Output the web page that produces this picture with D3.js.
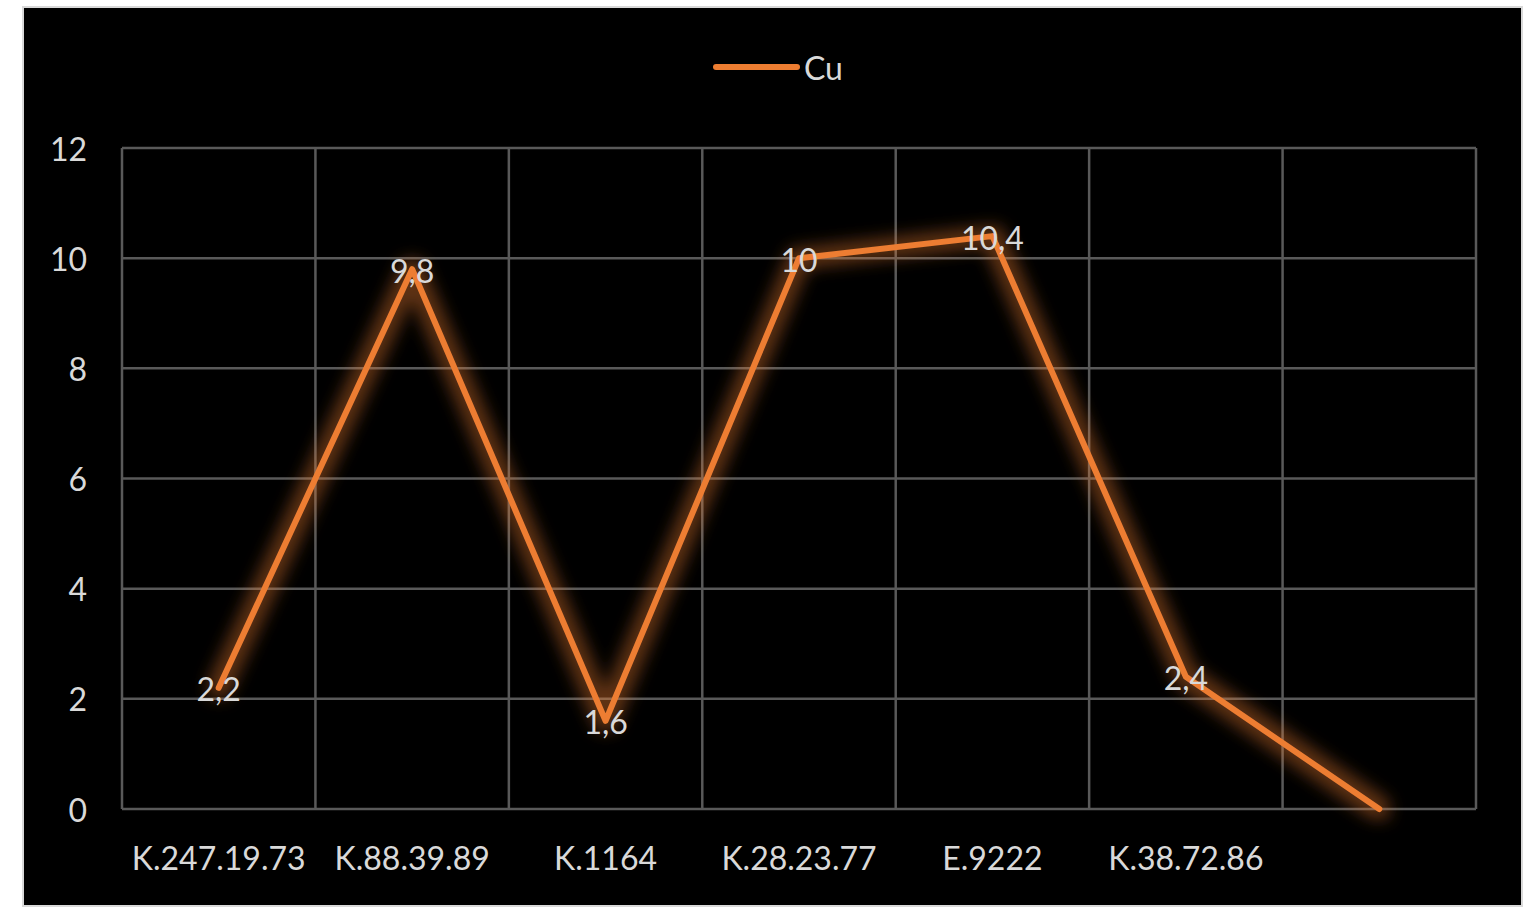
<!DOCTYPE html>
<html>
<head>
<meta charset="utf-8">
<script src="https://cdn.jsdelivr.net/npm/d3@7"></script>
<style>
  body { margin: 0; background: #fff; }
  text { font-family: Lato, "Open Sans", sans-serif; fill: #d9d9d9; }
</style>
</head>
<body>
<svg class="chart"></svg>
<script>
let width = 1531,
height = 908;

// data
let categories = ["K.247.19.73", "K.88.39.89", "K.1164", "K.28.23.77", "E.9222", "K.38.72.86", ""];
let cuValues = [2.2, 9.8, 1.6, 10, 10.4, 2.4, 0];
let cuLabels = ["2,2", "9,8", "1,6", "10", "10,4", "2,4", ""];
let yTicks = [0, 2, 4, 6, 8, 10, 12];
let seriesName = "Cu";

let svg = d3.select(".chart").attr("width", width).attr("height", height);

// frame
svg.append("rect")
  .attr("x", 23).attr("y", 7)
  .attr("width", 1499).attr("height", 899)
  .attr("fill", "#000")
  .attr("stroke", "#d9d9d9")
  .attr("stroke-width", 2);

let plot = { left: 122, right: 1476, top: 148, bottom: 809 };

let x = d3.scaleBand().domain(d3.range(categories.length)).range([plot.left, plot.right]);
let y = d3.scaleLinear().domain([0, 12]).range([plot.bottom, plot.top]);

// glow filter
let defs = svg.append("defs");
let f = defs.append("filter").attr("id", "glow")
  .attr("x", "-10%").attr("y", "-10%").attr("width", "120%").attr("height", "120%");
f.append("feMorphology").attr("in", "SourceAlpha").attr("operator", "dilate").attr("radius", 7).attr("result", "d");
f.append("feGaussianBlur").attr("in", "d").attr("stdDeviation", 8).attr("result", "b");
f.append("feFlood").attr("flood-color", "#ed7d31").attr("flood-opacity", 0.4);
f.append("feComposite").attr("in2", "b").attr("operator", "in").attr("result", "g");
let m = f.append("feMerge");
m.append("feMergeNode").attr("in", "g");
m.append("feMergeNode").attr("in", "SourceGraphic");

// gridlines
let grid = svg.append("g").attr("stroke", "#595959").attr("stroke-width", 2.5).attr("fill", "none");
grid.selectAll(".h").data(yTicks).enter().append("line")
  .attr("x1", plot.left).attr("x2", plot.right)
  .attr("y1", d => y(d)).attr("y2", d => y(d));
let xb = d3.range(categories.length + 1).map(i => i < categories.length ? x(i) : plot.right);
grid.selectAll(".v").data(xb).enter().append("line")
  .attr("x1", d => d).attr("x2", d => d)
  .attr("y1", plot.top).attr("y2", plot.bottom);

// y axis labels
svg.append("g").selectAll("text").data(yTicks).enter().append("text")
  .attr("x", 87).attr("y", d => y(d))
  .attr("text-anchor", "end").attr("dominant-baseline", "central")
  .attr("font-size", 32)
  .text(d => d);

// x axis labels
svg.append("g").selectAll("text").data(categories).enter().append("text")
  .attr("x", (d, i) => x(i) + x.bandwidth() / 2).attr("y", 857)
  .attr("text-anchor", "middle").attr("dominant-baseline", "central")
  .attr("font-size", 32)
  .text(d => d);

// line
let line = d3.line().x((d, i) => x(i) + x.bandwidth() / 2).y(d => y(d));
svg.append("path")
  .datum(cuValues)
  .attr("d", line)
  .attr("fill", "none")
  .attr("stroke", "#ed7d31")
  .attr("stroke-width", 6)
  .attr("stroke-linejoin", "round")
  .attr("stroke-linecap", "round")
  .attr("filter", "url(#glow)");

// data labels
svg.append("g").selectAll("text").data(cuValues).enter().append("text")
  .attr("x", (d, i) => x(i) + x.bandwidth() / 2).attr("y", d => y(d) + 1)
  .attr("text-anchor", "middle").attr("dominant-baseline", "central")
  .attr("font-size", 32)
  .text((d, i) => cuLabels[i]);

// legend
let lg = svg.append("g");
lg.append("line").attr("x1", 716).attr("x2", 797).attr("y1", 67).attr("y2", 67)
  .attr("stroke", "#ed7d31").attr("stroke-width", 6).attr("stroke-linecap", "round");
lg.append("text").attr("x", 804).attr("y", 67).attr("dominant-baseline", "central")
  .attr("font-size", 32).text(seriesName);
</script>
</body>
</html>
